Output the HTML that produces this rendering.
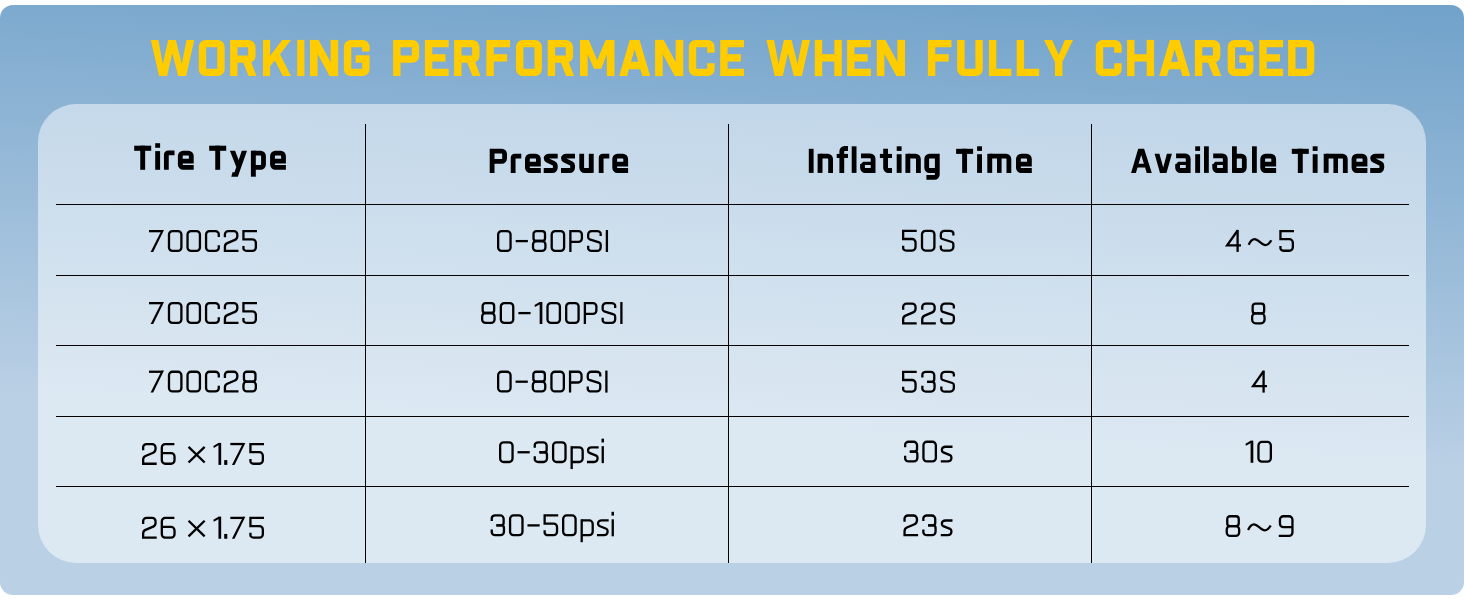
<!DOCTYPE html>
<html><head><meta charset="utf-8"><style>
html,body{margin:0;padding:0;background:#fff;width:1464px;height:600px;overflow:hidden;position:relative}
.outer{position:absolute;left:0;top:5px;width:1464px;height:590px;border-radius:13px;background:linear-gradient(183deg,rgb(113,162,202) 0%,rgb(186,208,229) 70%,rgb(186,208,229) 100%)}
.inner{position:absolute;left:38px;top:104px;width:1388px;height:459px;border-radius:38px;background:linear-gradient(183deg,rgb(191,213,232) 0%,rgb(220,232,242) 67.5%,rgb(220,232,242) 100%)}
.h{position:absolute;background:#000;height:1.4px;left:56px;width:1353px}
.v{position:absolute;background:#000;width:1.4px;top:124px;height:439px}
.t{position:absolute;white-space:nowrap;transform-origin:0 0;font-family:"Liberation Sans",sans-serif}
.ti{color:#ffcc00;font-weight:bold}
.hd{color:#000;font-weight:bold}
.tx{color:transparent;overflow:hidden;user-select:text}
svg{position:absolute;left:0;top:0}
.dg{fill:none;stroke:#000;stroke-width:2.3px;stroke-linecap:butt;stroke-linejoin:miter;stroke-miterlimit:10}
.tg{fill:none;stroke:#ffcc00;stroke-width:7.4px;stroke-linecap:butt;stroke-linejoin:miter;stroke-miterlimit:10}
.hg{fill:none;stroke:#000;stroke-width:4.8px;stroke-linecap:butt;stroke-linejoin:miter;stroke-miterlimit:10}
path.f{fill:currentColor;stroke:none;fill-rule:evenodd}
.tg{color:#ffcc00} .hg{color:#000} .dg{color:#000}
</style></head><body>
<div class="outer"></div>
<div class="inner"></div>
<div class="h" style="top:204px"></div>
<div class="h" style="top:275px"></div>
<div class="h" style="top:345px"></div>
<div class="h" style="top:416px"></div>
<div class="h" style="top:486px"></div>
<div class="v" style="left:365px"></div>
<div class="v" style="left:728px"></div>
<div class="v" style="left:1091px"></div>
<div class="t tx" style="left:151px;top:35px;width:219px;font-size:50px;line-height:50px">WORKING</div>
<div class="t tx" style="left:393px;top:35px;width:351px;font-size:50px;line-height:50px">PERFORMANCE</div>
<div class="t tx" style="left:767px;top:35px;width:138px;font-size:50px;line-height:50px">WHEN</div>
<div class="t tx" style="left:928px;top:35px;width:146px;font-size:50px;line-height:50px">FULLY</div>
<div class="t tx" style="left:1096px;top:35px;width:218px;font-size:50px;line-height:50px">CHARGED</div>
<div class="t tx" style="left:134px;top:142px;width:152px;font-size:33px;line-height:33px">Tire Type</div>
<div class="t tx" style="left:490px;top:145px;width:138px;font-size:32px;line-height:32px">Pressure</div>
<div class="t tx" style="left:809px;top:145px;width:223px;font-size:33px;line-height:33px">Inflating Time</div>
<div class="t tx" style="left:1131px;top:145px;width:254px;font-size:33px;line-height:33px">Available Times</div>
<div class="t tx" style="left:149px;top:226px;width:108px;font-size:30px;line-height:30px">700C25</div>
<div class="t tx" style="left:497px;top:226px;width:111px;font-size:30px;line-height:30px">0-80PSI</div>
<div class="t tx" style="left:902px;top:226px;width:52px;font-size:30px;line-height:30px">50S</div>
<div class="t tx" style="left:1225px;top:226px;width:69px;font-size:30px;line-height:30px">4～5</div>
<div class="t tx" style="left:149px;top:298px;width:108px;font-size:30px;line-height:30px">700C25</div>
<div class="t tx" style="left:481px;top:298px;width:142px;font-size:30px;line-height:30px">80-100PSI</div>
<div class="t tx" style="left:902px;top:298px;width:53px;font-size:30px;line-height:30px">22S</div>
<div class="t tx" style="left:1251px;top:298px;width:16px;font-size:30px;line-height:30px">8</div>
<div class="t tx" style="left:149px;top:367px;width:108px;font-size:30px;line-height:30px">700C28</div>
<div class="t tx" style="left:497px;top:367px;width:110px;font-size:30px;line-height:30px">0-80PSI</div>
<div class="t tx" style="left:902px;top:367px;width:53px;font-size:30px;line-height:30px">53S</div>
<div class="t tx" style="left:1251px;top:367px;width:17px;font-size:30px;line-height:30px">4</div>
<div class="t tx" style="left:142px;top:439px;width:122px;font-size:30px;line-height:30px">26 ×1.75</div>
<div class="t tx" style="left:499px;top:437px;width:105px;font-size:29px;line-height:29px">0-30psi</div>
<div class="t tx" style="left:904px;top:436px;width:48px;font-size:31px;line-height:31px">30s</div>
<div class="t tx" style="left:1246px;top:437px;width:26px;font-size:30px;line-height:30px">10</div>
<div class="t tx" style="left:142px;top:512px;width:122px;font-size:30px;line-height:30px">26 ×1.75</div>
<div class="t tx" style="left:491px;top:511px;width:123px;font-size:29px;line-height:29px">30-50psi</div>
<div class="t tx" style="left:903px;top:510px;width:49px;font-size:31px;line-height:31px">23s</div>
<div class="t tx" style="left:1226px;top:511px;width:68px;font-size:30px;line-height:30px">8～9</div>
<svg width="1464" height="600" viewBox="0 0 1464 600"><defs><g id="g0"><path d="M4.60,1.15L10.10,1.15C12.01,1.15 13.55,2.69 13.55,4.60L13.55,17.40C13.55,19.31 12.01,20.85 10.10,20.85L4.60,20.85C2.69,20.85 1.15,19.31 1.15,17.40L1.15,4.60C1.15,2.69 2.69,1.15 4.60,1.15Z"/></g><g id="g1"><path d="M13.85,7.00L13.85,4.07C13.85,2.46 12.31,1.15 10.40,1.15L4.60,1.15C2.69,1.15 1.15,2.69 1.15,4.60L1.15,17.40C1.15,19.31 2.69,20.85 4.60,20.85L10.40,20.85C12.31,20.85 13.85,19.59 13.85,18.02L13.85,15.20"/></g><g id="g2"><path d="M1.15,7.30L1.15,4.22C1.15,2.53 2.69,1.15 4.60,1.15L10.10,1.15C12.01,1.15 13.55,2.69 13.55,4.60L13.55,6.20C13.55,7.64 12.48,9.26 11.17,9.84L3.53,13.16C2.22,13.74 1.15,15.36 1.15,16.80L1.15,20.85L14.70,20.85"/></g><g id="g3"><path d="M1.15,6.70L1.15,3.93C1.15,2.39 2.69,1.15 4.60,1.15L9.60,1.15C11.51,1.15 13.05,2.69 13.05,4.60L13.05,8.51C13.05,9.94 11.89,11.10 10.46,11.10L5.80,11.10"/><path d="M5.80,11.10L10.76,11.10C12.19,11.10 13.35,12.26 13.35,13.69L13.35,17.40C13.35,19.31 11.81,20.85 9.90,20.85L4.60,20.85C2.69,20.85 1.15,19.56 1.15,17.98L1.15,15.10"/></g><g id="g4"><path d="M12.60,0.00L12.60,22.00"/><path d="M12.60,0.60L2.10,15.50L16.00,15.50"/></g><g id="g5"><path d="M14.70,1.15L1.15,1.15L1.15,9.30L10.10,9.30C12.01,9.30 13.55,10.84 13.55,12.75L13.55,17.40C13.55,19.31 12.01,20.85 10.10,20.85L4.60,20.85C2.69,20.85 1.15,19.76 1.15,18.43L1.15,16.00"/></g><g id="g6"><path d="M13.70,1.15L4.60,1.15C2.69,1.15 1.15,2.69 1.15,4.60L1.15,17.40C1.15,19.31 2.69,20.85 4.60,20.85L10.40,20.85C12.31,20.85 13.85,19.31 13.85,17.40L13.85,13.65C13.85,11.74 12.31,10.20 10.40,10.20L1.15,10.20"/></g><g id="g7"><path d="M0.00,1.15L13.55,1.15"/><path class="f" d="M12.70,0 L15.00,0 L4.20,22.00 L1.60,22.00 Z"/></g><g id="g8"><path d="M4.41,1.15L10.39,1.15C11.91,1.15 13.15,2.39 13.15,3.91L13.15,8.24C13.15,9.76 11.91,11.00 10.39,11.00L4.41,11.00C2.89,11.00 1.65,9.76 1.65,8.24L1.65,3.91C1.65,2.39 2.89,1.15 4.41,1.15Z"/><path d="M4.60,11.00L10.10,11.00C12.01,11.00 13.55,12.54 13.55,14.45L13.55,17.40C13.55,19.31 12.01,20.85 10.10,20.85L4.60,20.85C2.69,20.85 1.15,19.31 1.15,17.40L1.15,14.45C1.15,12.54 2.69,11.00 4.60,11.00Z"/></g><g id="g9"><path d="M0.00,20.85L10.20,20.85C12.11,20.85 13.65,19.31 13.65,17.40L13.65,4.60C13.65,2.69 12.11,1.15 10.20,1.15L4.60,1.15C2.69,1.15 1.15,2.69 1.15,4.60L1.15,8.55C1.15,10.46 2.69,12.00 4.60,12.00L13.65,12.00"/></g><g id="g10"><path class="f" d="M5.10,0.00h2.70v22.00h-2.70Z"/><path class="f" d="M5.10,0 L7.50,0 L5.10,2.4 L0.4,5.0 L0,3.0 Z"/></g><g id="g11"><path d="M1.15,22.00L1.15,1.15L9.20,1.15C11.11,1.15 12.65,2.69 12.65,4.60L12.65,8.45C12.65,10.36 11.11,11.90 9.20,11.90L1.15,11.90"/></g><g id="g12"><path d="M13.65,5.90L13.65,3.52C13.65,2.21 12.11,1.15 10.20,1.15L4.60,1.15C2.69,1.15 1.15,2.69 1.15,4.60L1.15,7.20C1.15,8.08 1.83,9.02 2.67,9.29L12.13,12.31C12.97,12.58 13.65,13.52 13.65,14.40L13.65,17.40C13.65,19.31 12.11,20.85 10.20,20.85L4.60,20.85C2.69,20.85 1.15,19.72 1.15,18.33L1.15,15.80"/></g><g id="g13"><path d="M1.10,0.00L1.10,22.00"/></g><g id="g14"><path d="M0.00,11.10L12.20,11.10"/></g><g id="g15"><path class="f" d="M0.00,17.20h3.10v4.80h-3.10Z"/></g><g id="g16"><path d="M0.55,3.95L16.65,19.65"/><path d="M0.55,19.65L16.65,3.95"/></g><g id="g17"><path d="M0.8,14.8 C2.6,11.0 4.6,9.2 6.7,9.2 C9.8,9.2 14.4,15.2 17.4,15.2 C19.6,15.2 21.6,13.6 23.4,10.4"/></g><g id="g18"><path d="M1.15,5.00L1.15,27.90"/><path d="M1.15,6.15L8.70,6.15C10.61,6.15 12.15,7.69 12.15,9.60L12.15,17.40C12.15,19.31 10.61,20.85 8.70,20.85L1.15,20.85"/></g><g id="g19"><path d="M11.70,6.15L4.60,6.15C2.69,6.15 1.15,7.28 1.15,8.68L1.15,9.80C1.15,10.57 1.73,11.43 2.45,11.72L9.25,14.48C9.97,14.77 10.55,15.63 10.55,16.40L10.55,17.93C10.55,19.54 9.01,20.85 7.10,20.85L0.00,20.85"/></g><g id="g20"><path d="M1.25,5.00L1.25,22.00"/><path class="f" d="M0.00,-2.50h2.50v3.80h-2.50Z"/></g><g id="t0"><path class="f" d="M0.00,0.00 L7.55,0.00 L12.00,24.13 L17.40,0.00 L25.10,0.00 L31.00,24.13 L35.80,0.00 L43.50,0.00 L35.40,36.20 L27.30,36.20 L21.50,13.07 L16.30,36.20 L8.30,36.20 Z"/></g><g id="t1"><path d="M6.80,3.70L19.10,3.70C20.81,3.70 22.20,5.09 22.20,6.80L22.20,29.40C22.20,31.11 20.81,32.50 19.10,32.50L6.80,32.50C5.09,32.50 3.70,31.11 3.70,29.40L3.70,6.80C3.70,5.09 5.09,3.70 6.80,3.70Z"/></g><g id="t2"><path d="M3.70,36.20L3.70,3.70L17.98,3.70C20.03,3.70 21.70,5.37 21.70,7.42L21.70,16.16C21.70,17.87 20.31,19.26 18.60,19.26L3.70,19.26"/><path class="f" d="M11.80,19.26 L20.00,19.26 L26.40,36.20 L18.50,36.20 Z"/></g><g id="t3"><path class="f" d="M0.00,0.00h7.10v36.20h-7.10Z"/><path class="f" d="M5.50,18.00 L19.20,0.00 L28.00,0.00 L17.00,14.38 L28.00,36.20 L19.90,36.20 L11.90,20.71 L5.50,28.16 Z"/></g><g id="t4"><path class="f" d="M0.00,0.00h7.20v36.20h-7.20Z"/></g><g id="t5"><path class="f" d="M0.00,0.00h7.60v36.20h-7.60Z"/><path class="f" d="M20.60,0.00h7.60v36.20h-7.60Z"/><path class="f" d="M0.00,0.00 L8.60,0.00 L28.20,36.20 L19.60,36.20 Z"/></g><g id="t6"><path d="M22.00,11.56L22.00,6.80C22.00,5.09 20.61,3.70 18.90,3.70L6.80,3.70C5.09,3.70 3.70,5.09 3.70,6.80L3.70,29.40C3.70,31.11 5.09,32.50 6.80,32.50L18.90,32.50C20.61,32.50 22.00,31.11 22.00,29.40L22.00,15.46L22.00,19.16L11.70,19.16"/></g><g id="t7"><path d="M3.70,36.20L3.70,3.70L19.30,3.70C21.01,3.70 22.40,5.09 22.40,6.80L22.40,16.16C22.40,17.87 21.01,19.26 19.30,19.26L3.70,19.26"/></g><g id="t8"><path d="M23.80,3.70L3.70,3.70L3.70,32.50L23.80,32.50"/><path d="M3.70,18.00L20.60,18.00"/></g><g id="t9"><path d="M23.60,3.70L3.70,3.70L3.70,36.20"/><path d="M3.70,18.00L20.80,18.00"/></g><g id="t10"><path class="f" d="M0.00,0.00 L8.80,0.00 L17.20,20.31 L25.70,0.00 L34.50,0.00 L34.50,36.20 L26.80,36.20 L26.80,14.38 L21.30,28.76 L14.00,28.76 L7.70,14.38 L7.70,36.20 L0.00,36.20 Z"/></g><g id="t11"><path class="f" d="M0.00,36.20 L10.60,0.00 L20.30,0.00 L31.00,36.20 L23.20,36.20 L21.20,29.26 L9.80,29.26 L7.80,36.20 Z M15.45,9.25 L19.00,21.82 L11.90,21.82 Z"/></g><g id="t12"><path d="M22.15,12.87L22.15,6.80C22.15,5.09 20.76,3.70 19.05,3.70L6.80,3.70C5.09,3.70 3.70,5.09 3.70,6.80L3.70,29.40C3.70,31.11 5.09,32.50 6.80,32.50L19.05,32.50C20.76,32.50 22.15,31.11 22.15,29.40L22.15,23.23"/></g><g id="t13"><path d="M3.70,18.00L23.30,18.00"/><path class="f" d="M0.00,0.00h7.40v36.20h-7.40Z"/><path class="f" d="M19.60,0.00h7.40v36.20h-7.40Z"/></g><g id="t14"><path d="M3.70,0.00L3.70,32.50L22.40,32.50"/></g><g id="t15"><path d="M3.70,0.00L3.70,29.40C3.70,31.11 5.09,32.50 6.80,32.50L18.80,32.50C20.51,32.50 21.90,31.11 21.90,29.40L21.90,0.00"/></g><g id="t16"><path class="f" d="M0.00,0.00 L8.10,0.00 L14.70,15.18 L20.90,0.00 L29.00,0.00 L18.40,22.12 L18.40,36.20 L11.00,36.20 L11.00,22.12 Z"/></g><g id="t17"><path d="M3.70,3.70L19.40,3.70C21.11,3.70 22.50,5.09 22.50,6.80L22.50,29.40C22.50,31.11 21.11,32.50 19.40,32.50L3.70,32.50L3.70,3.70Z"/></g><g id="h0"><path class="f" d="M0.00,0.00h17.00v5.10h-17.00Z"/><path class="f" d="M6.05,0.00h4.90v24.10h-4.90Z"/></g><g id="h1"><path class="f" d="M0.00,-2.50h4.90v4.60h-4.90Z"/><path class="f" d="M0.00,5.40h4.90v18.70h-4.90Z"/></g><g id="h2"><path d="M2.45,24.10L2.45,8.93C2.45,8.00 3.20,7.25 4.13,7.25L10.60,7.25"/></g><g id="h3"><path d="M2.40,15.40L13.40,15.40L13.40,10.20C13.40,8.65 12.15,7.40 10.60,7.40L5.20,7.40C3.65,7.40 2.40,8.65 2.40,10.20L2.40,18.90C2.40,20.45 3.65,21.70 5.20,21.70L15.80,21.70"/></g><g id="h4"><path class="f" d="M0.00,5.00 L5.20,5.00 L11.30,21.00 L6.30,21.00 Z"/><path class="f" d="M11.90,5.00 L17.10,5.00 L7.90,31.00 L1.40,31.00 L2.60,26.60 L4.60,26.60 Z"/></g><g id="h5"><path d="M2.45,7.40L9.80,7.40C11.35,7.40 12.60,8.65 12.60,10.20L12.60,18.90C12.60,20.45 11.35,21.70 9.80,21.70L2.45,21.70"/><path class="f" d="M0.00,5.00h4.90v26.00h-4.90Z"/></g><g id="h6"><path d="M2.40,24.10L2.40,2.40L12.10,2.40C13.65,2.40 14.90,3.65 14.90,5.20L14.90,9.70C14.90,11.25 13.65,12.50 12.10,12.50L2.40,12.50"/></g><g id="h7"><path d="M14.00,7.40L5.20,7.40C3.65,7.40 2.40,8.18 2.40,9.15L2.40,9.30C2.40,10.18 3.05,11.20 3.85,11.58L10.15,14.52C10.95,14.90 11.60,15.92 11.60,16.80L11.60,18.90C11.60,20.45 10.35,21.70 8.80,21.70L0.00,21.70"/></g><g id="h8"><path d="M2.40,5.00L2.40,18.90C2.40,20.45 3.65,21.70 5.20,21.70L11.95,21.70"/><path class="f" d="M9.50,5.00h4.90v19.10h-4.90Z"/></g><g id="h9"><path class="f" d="M0.00,0.00h4.80v24.10h-4.80Z"/></g><g id="h10"><path d="M2.45,7.40L10.20,7.40C11.75,7.40 13.00,8.65 13.00,10.20L13.00,24.10"/><path class="f" d="M0.00,5.00h4.90v19.10h-4.90Z"/></g><g id="h11"><path d="M5.10,24.10L5.10,2.50C5.10,0.95 6.35,-0.30 7.90,-0.30L11.30,-0.30"/><path class="f" d="M0.00,5.10h11.30v4.10h-11.30Z"/></g><g id="h12"><path class="f" d="M0.00,-2.50h4.80v26.60h-4.80Z"/></g><g id="h13"><path d="M0.90,7.10L10.20,7.10C11.75,7.10 13.00,8.35 13.00,9.90L13.00,24.10"/><path d="M2.40,15.50L2.40,18.90C2.40,20.45 3.65,21.70 5.20,21.70L13.00,21.70"/><path class="f" d="M13.00,13.00L3.00,13.00L0.00,16.20L13.00,16.20"/></g><g id="h14"><path d="M5.70,0.00L5.70,18.90C5.70,20.45 6.95,21.70 8.50,21.70L12.10,21.70"/><path class="f" d="M0.00,5.10h12.10v4.10h-12.10Z"/></g><g id="h15"><path d="M13.00,21.70L5.20,21.70C3.65,21.70 2.40,20.45 2.40,18.90L2.40,10.20C2.40,8.65 3.65,7.40 5.20,7.40L13.00,7.40L13.00,25.80C13.00,27.35 11.75,28.60 10.20,28.60L2.10,28.60"/></g><g id="h16"><path d="M2.45,7.40L18.80,7.40C20.35,7.40 21.60,8.65 21.60,10.20L21.60,24.10"/><path class="f" d="M0.00,5.00h4.90v19.10h-4.90Z"/><path class="f" d="M9.70,7.40h4.60v16.70h-4.60Z"/></g><g id="h17"><path class="f" d="M0.20,24.10 L7.30,0.00 L13.20,0.00 L20.90,24.10 L15.80,24.10 L14.20,18.70 L6.60,18.70 L5.00,24.10 Z M10.30,6.30 L13.00,15.00 L7.70,15.00 Z"/></g><g id="h18"><path class="f" d="M0.00,5.00 L4.80,5.00 L8.65,18.70 L12.30,5.00 L17.30,5.00 L11.90,24.10 L5.40,24.10 Z"/></g><g id="h19"><path d="M2.45,7.40L9.50,7.40C11.05,7.40 12.30,8.65 12.30,10.20L12.30,18.90C12.30,20.45 11.05,21.70 9.50,21.70L2.45,21.70"/><path class="f" d="M0.00,-2.50h4.80v26.60h-4.80Z"/></g></defs><g class="dg"><use href="#g7" x="149.00" y="230.00"/>
<use href="#g0" x="167.84" y="230.00"/>
<use href="#g0" x="186.38" y="230.00"/>
<use href="#g1" x="204.92" y="230.00"/>
<use href="#g2" x="223.76" y="230.00"/>
<use href="#g5" x="242.30" y="230.00"/>
<use href="#g0" x="497.00" y="230.00"/>
<use href="#g14" x="515.68" y="230.00"/>
<use href="#g8" x="531.87" y="230.00"/>
<use href="#g0" x="550.55" y="230.00"/>
<use href="#g11" x="569.23" y="230.00"/>
<use href="#g12" x="587.02" y="230.00"/>
<use href="#g13" x="605.80" y="230.00"/>
<use href="#g5" x="902.00" y="229.70"/>
<use href="#g0" x="920.85" y="229.70"/>
<use href="#g12" x="939.70" y="229.70"/>
<use href="#g4" x="1225.00" y="229.90"/>
<use href="#g17" x="1247.88" y="229.90"/>
<use href="#g5" x="1279.30" y="229.90"/>
<use href="#g7" x="149.00" y="302.00"/>
<use href="#g0" x="167.84" y="302.00"/>
<use href="#g0" x="186.38" y="302.00"/>
<use href="#g1" x="204.92" y="302.00"/>
<use href="#g2" x="223.76" y="302.00"/>
<use href="#g5" x="242.30" y="302.00"/>
<use href="#g8" x="481.00" y="302.00"/>
<use href="#g0" x="499.69" y="302.00"/>
<use href="#g14" x="518.38" y="302.00"/>
<use href="#g10" x="534.56" y="302.00"/>
<use href="#g0" x="546.35" y="302.00"/>
<use href="#g0" x="565.04" y="302.00"/>
<use href="#g11" x="583.73" y="302.00"/>
<use href="#g12" x="601.51" y="302.00"/>
<use href="#g13" x="620.30" y="302.00"/>
<use href="#g2" x="902.00" y="302.50"/>
<use href="#g2" x="921.10" y="302.50"/>
<use href="#g12" x="940.20" y="302.50"/>
<use href="#g8" x="1251.00" y="302.45"/>
<use href="#g7" x="149.00" y="370.60"/>
<use href="#g0" x="167.84" y="370.60"/>
<use href="#g0" x="186.38" y="370.60"/>
<use href="#g1" x="204.92" y="370.60"/>
<use href="#g2" x="223.76" y="370.60"/>
<use href="#g8" x="242.30" y="370.60"/>
<use href="#g0" x="497.00" y="370.60"/>
<use href="#g14" x="515.60" y="370.60"/>
<use href="#g8" x="531.70" y="370.60"/>
<use href="#g0" x="550.30" y="370.60"/>
<use href="#g11" x="568.90" y="370.60"/>
<use href="#g12" x="586.60" y="370.60"/>
<use href="#g13" x="605.30" y="370.60"/>
<use href="#g5" x="902.00" y="370.70"/>
<use href="#g3" x="921.20" y="370.70"/>
<use href="#g12" x="940.20" y="370.70"/>
<use href="#g4" x="1251.00" y="370.60"/>
<use href="#g2" x="142.00" y="442.90"/>
<use href="#g6" x="160.67" y="442.90"/>
<use href="#g16" x="188.01" y="442.90"/>
<use href="#g10" x="213.36" y="442.90"/>
<use href="#g15" x="224.20" y="442.90"/>
<use href="#g7" x="230.33" y="442.90"/>
<use href="#g5" x="249.30" y="442.90"/>
<use href="#g0" x="499.00" y="441.15"/>
<use href="#g14" x="517.55" y="441.15"/>
<use href="#g3" x="533.61" y="441.15"/>
<use href="#g0" x="551.96" y="441.15"/>
<use href="#g18" x="570.52" y="441.15"/>
<use href="#g19" x="586.96" y="441.15"/>
<use href="#g20" x="601.50" y="441.15"/>
<use href="#g3" x="904.00" y="440.60"/>
<use href="#g0" x="922.30" y="440.60"/>
<use href="#g19" x="940.80" y="440.60"/>
<use href="#g10" x="1245.50" y="440.80"/>
<use href="#g0" x="1257.30" y="440.80"/>
<use href="#g2" x="142.00" y="516.75"/>
<use href="#g6" x="160.67" y="516.75"/>
<use href="#g16" x="188.01" y="516.75"/>
<use href="#g10" x="213.36" y="516.75"/>
<use href="#g15" x="224.20" y="516.75"/>
<use href="#g7" x="230.33" y="516.75"/>
<use href="#g5" x="249.30" y="516.75"/>
<use href="#g3" x="490.60" y="514.30"/>
<use href="#g0" x="508.93" y="514.30"/>
<use href="#g14" x="527.46" y="514.30"/>
<use href="#g5" x="543.49" y="514.30"/>
<use href="#g0" x="562.02" y="514.30"/>
<use href="#g18" x="580.55" y="514.30"/>
<use href="#g19" x="596.98" y="514.30"/>
<use href="#g20" x="611.50" y="514.30"/>
<use href="#g2" x="903.40" y="514.35"/>
<use href="#g3" x="922.20" y="514.35"/>
<use href="#g19" x="940.80" y="514.35"/>
<use href="#g8" x="1225.60" y="515.10"/>
<use href="#g17" x="1247.28" y="515.10"/>
<use href="#g9" x="1278.80" y="515.10"/></g><g class="tg"><use href="#t0" x="150.80" y="39.90"/>
<use href="#t1" x="198.75" y="39.90"/>
<use href="#t2" x="230.10" y="39.90"/>
<use href="#t3" x="263.00" y="39.90"/>
<use href="#t4" x="297.20" y="39.90"/>
<use href="#t5" x="310.00" y="39.90"/>
<use href="#t6" x="343.90" y="39.90"/>
<use href="#t7" x="393.10" y="39.90"/>
<use href="#t8" x="424.90" y="39.90"/>
<use href="#t2" x="454.10" y="39.90"/>
<use href="#t9" x="486.40" y="39.90"/>
<use href="#t1" x="516.00" y="39.90"/>
<use href="#t2" x="547.70" y="39.90"/>
<use href="#t10" x="580.00" y="39.90"/>
<use href="#t11" x="619.20" y="39.90"/>
<use href="#t5" x="655.10" y="39.90"/>
<use href="#t12" x="688.80" y="39.90"/>
<use href="#t8" x="720.20" y="39.90"/>
<use href="#t0" x="766.50" y="39.90"/>
<use href="#t13" x="814.80" y="39.90"/>
<use href="#t8" x="847.10" y="39.90"/>
<use href="#t5" x="876.80" y="39.90"/>
<use href="#t9" x="927.90" y="39.90"/>
<use href="#t15" x="957.20" y="39.90"/>
<use href="#t14" x="988.90" y="39.90"/>
<use href="#t14" x="1016.70" y="39.90"/>
<use href="#t16" x="1044.00" y="39.90"/>
<use href="#t12" x="1095.80" y="39.90"/>
<use href="#t13" x="1127.10" y="39.90"/>
<use href="#t11" x="1159.20" y="39.90"/>
<use href="#t2" x="1194.90" y="39.90"/>
<use href="#t6" x="1227.70" y="39.90"/>
<use href="#t8" x="1259.30" y="39.90"/>
<use href="#t17" x="1288.10" y="39.90"/></g><g class="hg"><use href="#h0" x="134.20" y="145.70"/>
<use href="#h1" x="155.20" y="145.70"/>
<use href="#h2" x="163.90" y="145.70"/>
<use href="#h3" x="177.90" y="145.70"/>
<use href="#h0" x="209.20" y="145.70"/>
<use href="#h4" x="229.90" y="145.70"/>
<use href="#h5" x="250.90" y="145.70"/>
<use href="#h3" x="270.10" y="145.70"/>
<use href="#h6" x="489.70" y="148.80"/>
<use href="#h2" x="510.70" y="148.80"/>
<use href="#h3" x="525.00" y="148.80"/>
<use href="#h7" x="543.70" y="148.80"/>
<use href="#h7" x="561.00" y="148.80"/>
<use href="#h8" x="579.30" y="148.80"/>
<use href="#h2" x="598.70" y="148.80"/>
<use href="#h3" x="612.30" y="148.80"/>
<use href="#h9" x="808.80" y="148.80"/>
<use href="#h10" x="817.60" y="148.80"/>
<use href="#h11" x="836.70" y="148.80"/>
<use href="#h12" x="851.70" y="148.80"/>
<use href="#h13" x="860.10" y="148.80"/>
<use href="#h14" x="879.90" y="148.80"/>
<use href="#h1" x="896.70" y="148.80"/>
<use href="#h10" x="905.40" y="148.80"/>
<use href="#h15" x="924.30" y="148.80"/>
<use href="#h0" x="956.10" y="148.80"/>
<use href="#h1" x="977.10" y="148.80"/>
<use href="#h16" x="987.30" y="148.80"/>
<use href="#h3" x="1016.00" y="148.80"/>
<use href="#h17" x="1130.90" y="148.80"/>
<use href="#h18" x="1154.60" y="148.80"/>
<use href="#h13" x="1175.20" y="148.80"/>
<use href="#h1" x="1195.20" y="148.80"/>
<use href="#h12" x="1204.00" y="148.80"/>
<use href="#h13" x="1212.30" y="148.80"/>
<use href="#h19" x="1232.00" y="148.80"/>
<use href="#h12" x="1252.00" y="148.80"/>
<use href="#h3" x="1260.30" y="148.80"/>
<use href="#h0" x="1291.80" y="148.80"/>
<use href="#h1" x="1312.70" y="148.80"/>
<use href="#h16" x="1323.70" y="148.80"/>
<use href="#h3" x="1351.60" y="148.80"/>
<use href="#h7" x="1370.20" y="148.80"/></g></svg>
</body></html>
